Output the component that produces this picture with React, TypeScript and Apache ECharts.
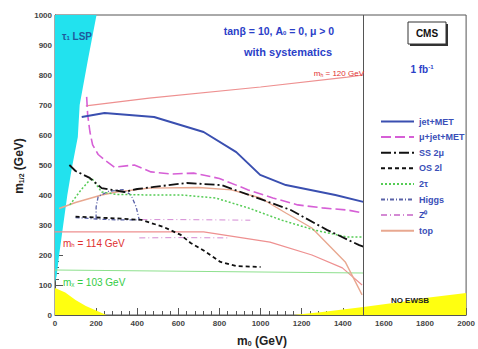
import React, { useEffect, useRef } from "react";
import * as echarts from "echarts";

// ---- data (m0, m1/2 in GeV) ----
const xTicks = [0, 200, 400, 600, 800, 1000, 1200, 1400, 1600, 1800, 2000];
const yTicks = [0, 100, 200, 300, 400, 500, 600, 700, 800, 900, 1000];

const lspX = [0, 202, 160, 120, 111, 82, 60, 40, 20, 8, 0];
const lspY = [1000, 1000, 850, 700, 593, 490, 400, 300, 200, 130, 110];

const ewsbLeftX = [0, 0, 50, 100, 150, 200, 250];
const ewsbLeftY = [0, 90, 75, 50, 30, 15, 0];
const ewsbRightX = [1160, 1300, 1500, 1700, 1800, 2000, 2000];
const ewsbRightY = [0, 10, 27, 45, 57, 73, 0];

const jetMetX = [130, 241, 482, 723, 882, 998, 1123, 1364, 1500];
const jetMetY = [660, 673, 660, 610, 543, 467, 433, 400, 377];

const muJetX = [154, 159, 170, 183, 210, 241, 289, 386, 467, 564, 675, 800, 940, 1060, 1181, 1300, 1422, 1500];
const muJetY = [727, 667, 610, 567, 535, 517, 493, 500, 477, 470, 473, 455, 417, 390, 367, 357, 350, 340];

const ss2muX = [70, 100, 169, 227, 337, 400, 482, 641, 810, 973, 1147, 1325, 1480, 1500];
const ss2muY = [500, 480, 457, 423, 410, 420, 427, 440, 433, 393, 350, 283, 233, 228];

const os2lX = [100, 200, 300, 420, 530, 612, 660, 723, 805, 882, 1000];
const os2lY = [328, 325, 322, 317, 293, 267, 240, 215, 177, 163, 160];

const tauX = [72, 130, 178, 227, 300, 458, 617, 781, 940, 1099, 1263, 1422, 1500];
const tauY = [367, 420, 457, 410, 402, 400, 400, 390, 357, 317, 283, 260, 260];

const higgsX = [100, 200, 300, 410, 395, 370, 330, 260, 210, 200, 200];
const higgsY = [325, 320, 317, 317, 360, 400, 418, 412, 395, 360, 322];

const z0UpperX = [420, 600, 800, 950];
const z0UpperY = [318, 318, 317, 316];
const z0LowerX = [410, 600, 850];
const z0LowerY = [257, 258, 257];

const topX = [20, 100, 227, 300, 458, 700, 858, 1000, 1123, 1250, 1412, 1494];
const topY = [355, 375, 400, 410, 423, 425, 417, 390, 340, 290, 177, 67];

const mh120X = [150, 458, 1000, 1422, 1500];
const mh120Y = [697, 723, 760, 793, 800];
const mh114X = [0, 500, 723, 1046, 1250, 1398, 1494];
const mh114Y = [277, 277, 277, 243, 200, 157, 100];
const mchiX = [0, 1500];
const mchiY = [150, 140];

const legendNames = ["jet+MET", "μ+jet+MET", "SS 2μ", "OS 2l", "2τ", "Higgs", "Z⁰", "top"];

const pairs = (xs: number[], ys: number[]) => xs.map((x, i) => [x, ys[i]]);

const polySeries = (xs: number[], ys: number[], fill: string) => ({
  type: "custom",
  silent: true,
  z: 1,
  clip: true,
  encode: { x: 0, y: 1 },
  data: pairs(xs, ys),
  renderItem: (params: any, api: any) => {
    if (params.dataIndex !== 0) return null;
    const pts = xs.map((x, i) => api.coord([x, ys[i]]));
    return { type: "polygon", shape: { points: pts }, style: { fill } };
  },
});

const lineSeries = (name: string, data: any[], color: string, width: number, type: any, z = 3) => ({
  name,
  type: "line",
  data,
  symbol: "none",
  z,
  connectNulls: false,
  lineStyle: { color, width, type },
  itemStyle: { color, opacity: 0 },
});

const FONT = "Liberation Sans";

const sub = (main: string, s: string, rest: string, size: number, color: string, bold = false) => ({
  text: `{m|${main}}{s|${s}}{m|${rest}}`,
  rich: {
    m: { fontSize: size, fontWeight: bold ? "bold" : "normal", fontFamily: FONT, fill: color, lineHeight: size + 2, verticalAlign: "bottom" },
    s: { fontSize: Math.round(size * 0.6), fontWeight: bold ? "bold" : "normal", fontFamily: FONT, fill: color, lineHeight: Math.round(size * 0.6), verticalAlign: "bottom" },
  },
});

export default function App() {
  const ref = useRef<HTMLDivElement>(null);
  useEffect(() => {
    if (!ref.current) return;
    const chart = echarts.init(ref.current, undefined, { renderer: "svg" });
    const z0Data = [...pairs(z0UpperX, z0UpperY), "-", ...pairs(z0LowerX, z0LowerY)];
    chart.setOption({
      animation: false,
      backgroundColor: "#fff",
      grid: { left: 55, right: 8, top: 15, bottom: 34, show: true, borderColor: "#555", borderWidth: 1 },
      xAxis: {
        type: "value",
        min: xTicks[0],
        max: xTicks[xTicks.length - 1],
        interval: 200,
        axisLine: { lineStyle: { color: "#555" } },
        axisTick: { inside: true, length: 7, lineStyle: { color: "#555" } },
        minorTick: { show: true, splitNumber: 5, length: 4, lineStyle: { color: "#555" } },
        splitLine: { show: false },
        axisLabel: { fontSize: 8, fontWeight: "bold", color: "#444", fontFamily: FONT, margin: 4, formatter: (v: number) => String(v) },
      },
      yAxis: {
        type: "value",
        min: yTicks[0],
        max: yTicks[yTicks.length - 1],
        interval: 100,
        axisLine: { show: true, lineStyle: { color: "#555" } },
        axisTick: { show: true, inside: true, length: 8, lineStyle: { color: "#555" } },
        minorTick: { show: true, splitNumber: 5, length: 4, lineStyle: { color: "#555" } },
        splitLine: { show: false },
        axisLabel: { fontSize: 8, fontWeight: "bold", color: "#444", fontFamily: FONT, margin: 3, formatter: (v: number) => String(v) },
      },
      legend: {
        data: legendNames,
        orient: "vertical",
        left: 375,
        top: 112,
        itemWidth: 33,
        itemHeight: 9,
        itemGap: 6.6,
        itemStyle: { opacity: 0 },
        textStyle: { color: "#3a4fb8", fontSize: 9, fontWeight: "bold", fontFamily: FONT },
      },
      series: [
        polySeries(lspX, lspY, "#22e2ee"),
        polySeries(ewsbLeftX, ewsbLeftY, "#ffff10"),
        polySeries(ewsbRightX, ewsbRightY, "#ffff10"),
        {
          ...lineSeries("mh120", pairs(mh120X, mh120Y), "#ee9090", 1.2, "solid", 2),
          markLine: {
            silent: true,
            symbol: "none",
            label: { show: false },
            lineStyle: { color: "#555", width: 1, type: "solid" },
            data: [{ xAxis: 1500 }],
          },
        },
        lineSeries("mh114", pairs(mh114X, mh114Y), "#ee9090", 1.2, "solid", 2),
        lineSeries("mchi", pairs(mchiX, mchiY), "#8ee08e", 1.2, "solid", 2),
        lineSeries("top", pairs(topX, topY), "#e8a890", 1.4, "solid"),
        lineSeries("Z⁰", z0Data, "#d48ad4", 1, [6, 3, 1, 3]),
        lineSeries("Higgs", pairs(higgsX, higgsY), "#5a62a8", 1.3, [4, 2, 1, 2]),
        lineSeries("2τ", pairs(tauX, tauY), "#55cc55", 1.5, [2, 2]),
        lineSeries("OS 2l", pairs(os2lX, os2lY), "#111", 1.8, [4, 3]),
        lineSeries("SS 2μ", pairs(ss2muX, ss2muY), "#111", 1.8, [10, 3, 2, 3]),
        lineSeries("μ+jet+MET", pairs(muJetX, muJetY), "#d65fd6", 1.6, [10, 4]),
        lineSeries("jet+MET", pairs(jetMetX, jetMetY), "#3a4fb0", 2, "solid"),
      ],
      graphic: [
        {
          type: "text",
          z: 100,
          x: 62,
          y: 35,
          style: { ...sub("τ", "1", " LSP", 10, "#1f5a9c", true), align: "left", verticalAlign: "middle" },
        },
        {
          type: "text",
          z: 100,
          x: 279,
          y: 30,
          style: { ...sub("tanβ = 10, A", "0", " = 0, μ > 0", 10.5, "#2b3fc8", true), align: "center", verticalAlign: "middle" },
        },
        {
          type: "text",
          z: 100,
          x: 288,
          y: 52,
          style: { text: "with systematics", align: "center", verticalAlign: "middle", font: `bold 11px "${FONT}"`, fill: "#2b3fc8" },
        },
        {
          type: "text",
          z: 100,
          x: 364,
          y: 72,
          style: { ...sub("m", "h", " = 120 GeV", 8, "#e03030"), align: "right", verticalAlign: "middle" },
        },
        {
          type: "text",
          z: 100,
          x: 63,
          y: 242,
          style: { ...sub("m", "h", " = 114 GeV", 10, "#e03030"), align: "left", verticalAlign: "middle" },
        },
        {
          type: "text",
          z: 100,
          x: 63,
          y: 281,
          style: { ...sub("m", "χ", " = 103 GeV", 10, "#33cc44"), align: "left", verticalAlign: "middle" },
        },
        {
          type: "text",
          z: 100,
          x: 410,
          y: 300,
          style: { text: "NO EWSB", align: "center", verticalAlign: "middle", font: `bold 8px "${FONT}"`, fill: "#222" },
        },
        { type: "rect", z: 100, shape: { x: 410, y: 24, width: 38, height: 22 }, style: { fill: "#333" } },
        { type: "rect", z: 101, shape: { x: 408, y: 22, width: 38, height: 22 }, style: { fill: "#fff", stroke: "#333", lineWidth: 1 } },
        {
          type: "text",
          z: 102,
          x: 427,
          y: 33,
          style: { text: "CMS", align: "center", verticalAlign: "middle", font: `bold 10px "${FONT}"`, fill: "#111" },
        },
        {
          type: "text",
          z: 100,
          x: 422,
          y: 70,
          style: {
            text: "{m|1 fb}{s|-1}",
            align: "center",
            verticalAlign: "middle",
            rich: {
              m: { fontSize: 10, fontWeight: "bold", fontFamily: FONT, fill: "#2b3fc8", lineHeight: 12, verticalAlign: "top" },
              s: { fontSize: 6, fontWeight: "bold", fontFamily: FONT, fill: "#2b3fc8", lineHeight: 6, verticalAlign: "top" },
            },
          },
        },
        {
          type: "text",
          z: 100,
          x: 262,
          y: 340,
          style: { ...sub("m", "0", " (GeV)", 12, "#222", true), align: "center", verticalAlign: "middle" },
        },
        {
          type: "text",
          z: 100,
          x: 18,
          y: 166,
          rotation: Math.PI / 2,
          style: { ...sub("m", "1/2", " (GeV)", 12, "#222", true), align: "center", verticalAlign: "middle" },
        },
      ],
    });
    return () => chart.dispose();
  }, []);
  return <div ref={ref} style={{ width: 478, height: 349, position: "absolute", left: 0, top: 0 }} />;
}
